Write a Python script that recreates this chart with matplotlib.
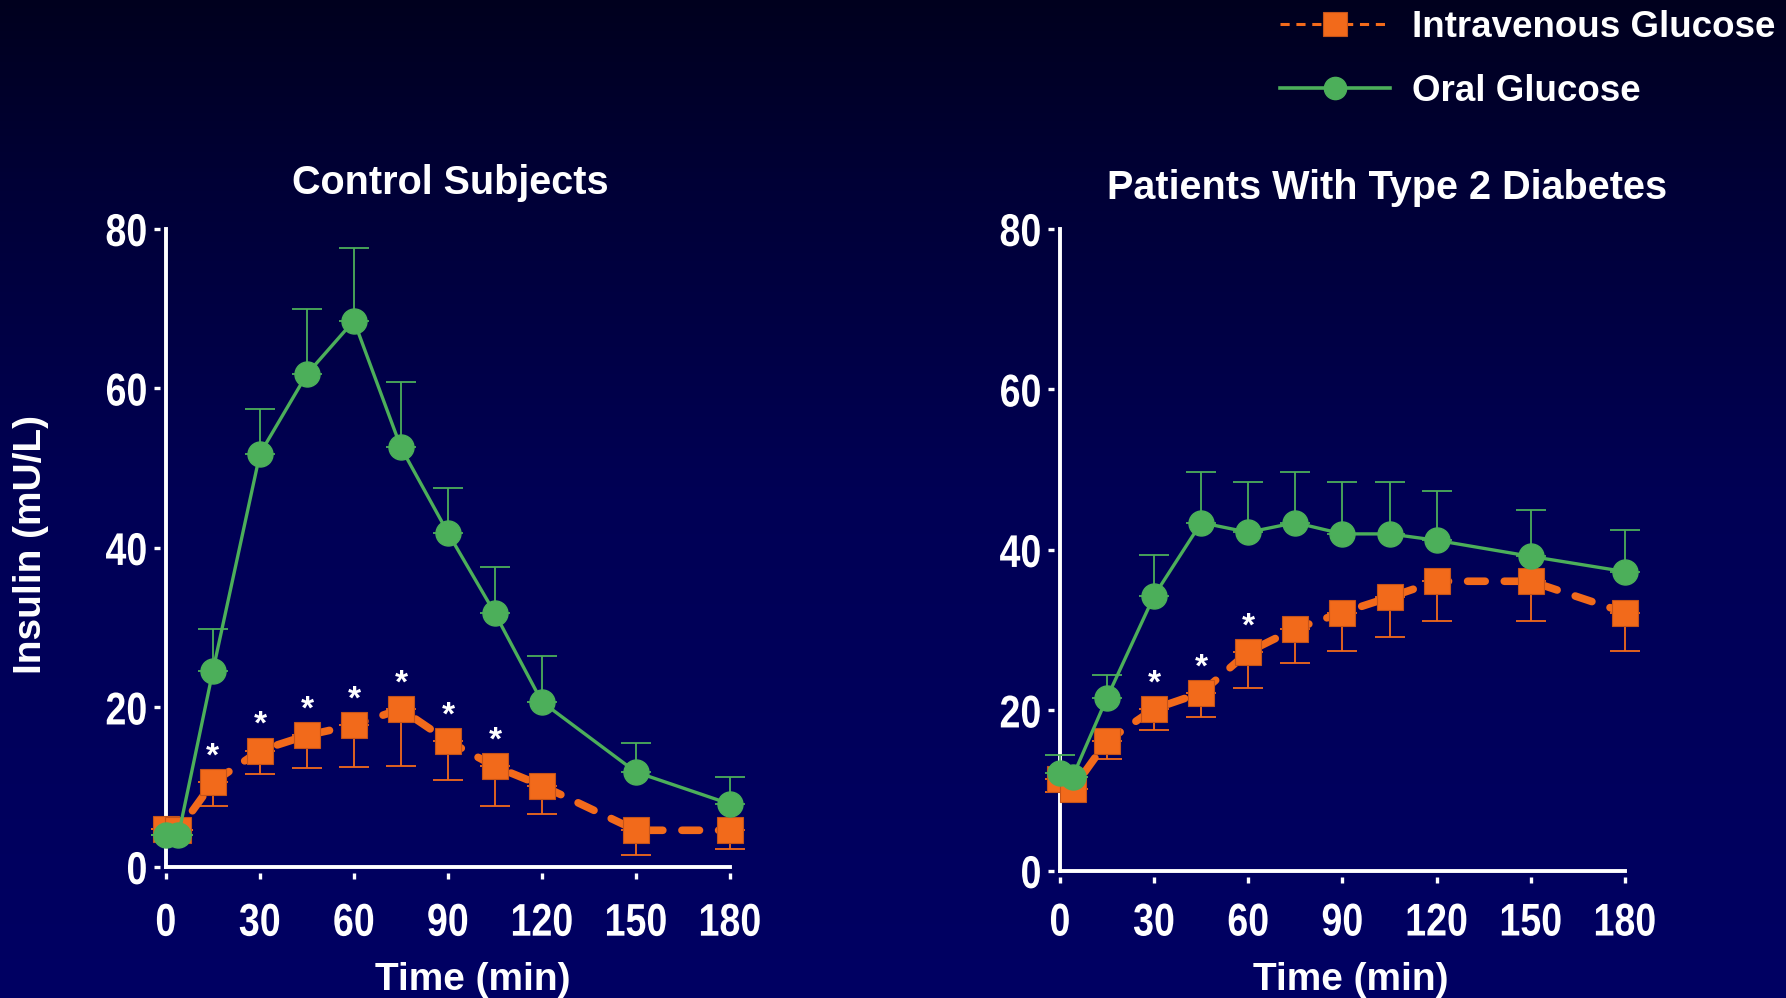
import numpy as np
import matplotlib
matplotlib.use("Agg")
import matplotlib.pyplot as plt
from matplotlib.colors import LinearSegmentedColormap
from matplotlib.lines import Line2D
from matplotlib.patheffects import AbstractPathEffect
from matplotlib.transforms import Affine2D

# Insulin response (mU/L) after oral vs intravenous glucose
time = [0, 4, 15, 30, 45, 60, 75, 90, 105, 120, 150, 180]

ctrl_oral = [4.0, 4.0, 24.6, 51.8, 61.8, 68.5, 52.6, 41.9, 31.8, 20.7, 11.9, 7.9]
ctrl_oral_se = [0, 0, 5.3, 5.6, 8.2, 9.1, 8.2, 5.6, 5.8, 5.8, 3.7, 3.4]
ctrl_iv = [4.8, 4.6, 10.6, 14.6, 16.5, 17.8, 19.8, 15.8, 12.6, 10.2, 4.6, 4.6]
ctrl_iv_se = [0, 0, 2.9, 2.9, 4.1, 5.3, 7.1, 4.9, 4.9, 3.5, 3.1, 2.3]
ctrl_sig = [15, 30, 45, 60, 75, 90, 105]

t2d_oral = [12.2, 11.7, 21.6, 34.3, 43.4, 42.2, 43.4, 42.0, 42.0, 41.2, 39.2, 37.3]
t2d_oral_se = [2.2, 0, 2.8, 5.1, 6.3, 6.3, 6.3, 6.5, 6.5, 6.2, 5.8, 5.2]
t2d_iv = [11.4, 10.2, 16.2, 20.2, 22.2, 27.3, 30.2, 32.2, 34.1, 36.1, 36.1, 32.2]
t2d_iv_se = [1.6, 0, 2.2, 2.6, 3.0, 4.5, 4.3, 4.8, 5.0, 5.0, 5.0, 4.8]
t2d_sig = [30, 45, 60]

xticks = [0, 30, 60, 90, 120, 150, 180]
yticks = [0, 20, 40, 60, 80]

ORANGE = "#f26a1b"
GREEN = "#4caf5a"

plt.rcParams["font.family"] = ["Liberation Sans", "DejaVu Sans"]
plt.rcParams["font.weight"] = "bold"


class Condense(AbstractPathEffect):
    """Squeeze text horizontally (narrow-font look) about an anchor."""

    def __init__(self, sx, anchor=0.5):
        super().__init__()
        self._sx = sx
        self._anchor = anchor

    def draw_path(self, renderer, gc, tpath, affine, rgbFace=None):
        bb = tpath.get_extents(affine)
        cx = bb.x0 + self._anchor * bb.width
        squeeze = Affine2D().translate(-cx, 0).scale(self._sx, 1).translate(cx, 0)
        renderer.draw_path(gc, tpath, affine + squeeze, rgbFace)


fig = plt.figure(figsize=(17.86, 9.98), dpi=100)

# dark navy background, lighter toward the bottom
bg = fig.add_axes([0, 0, 1, 1], zorder=-10)
bg.axis("off")
cmap = LinearSegmentedColormap.from_list(
    "navy", [(0, "#00001e"), (0.18, "#000036"), (0.5, "#000055"), (1, "#000063")])
bg.imshow(np.linspace(0, 1, 256).reshape(-1, 1), cmap=cmap, aspect="auto",
          extent=[0, 1, 0, 1], origin="upper")


def panel(ax, oral, oral_se, iv, iv_se, sig, title, title_x, title_y,
          xlab_x, xlab_y, xpad):
    ax.set_facecolor("none")
    ax.set_xlim(0, 180)
    ax.set_ylim(0, 80)

    # IV glucose: dashed orange with squares, SE below
    ax.errorbar(time, iv, yerr=[iv_se, np.zeros(len(iv_se))], fmt="none",
                ecolor=ORANGE, elinewidth=1.3, capsize=11, capthick=1.3,
                zorder=2, clip_on=False)
    ax.plot(time, iv, color=ORANGE, lw=5.5, dashes=(2.3, 2.5),
            dash_capstyle="round", marker="s", ms=18.5, mfc=ORANGE,
            mec="#c4531a", mew=0.8, zorder=3, clip_on=False)

    # oral glucose: solid green with circles, SE above
    ax.errorbar(time, oral, yerr=[np.zeros(len(oral_se)), oral_se], fmt="none",
                ecolor=GREEN, elinewidth=1.3, capsize=11, capthick=1.3,
                zorder=4, clip_on=False)
    ax.plot(time, oral, color=GREEN, lw=2.4, marker="o", ms=18,
            mfc=GREEN, mec=GREEN, zorder=5, clip_on=False)

    for t in sig:
        ax.annotate("*", (t, iv[time.index(t)]), xytext=(0, 18),
                    textcoords="offset points", ha="center", va="center",
                    color="white", fontsize=24, fontweight="bold", zorder=6)

    # axis lines drawn by hand so the tick stubs sit detached from them
    for s in ax.spines.values():
        s.set_visible(False)
    ax.spines["left"].set_position(("outward", 4))
    ax.spines["bottom"].set_position(("outward", 4))
    ax.axvline(0, color="white", lw=2.8, zorder=1, clip_on=False)
    ax.axhline(0, color="white", lw=2.8, zorder=1, clip_on=False)

    ax.set_xticks(xticks)
    ax.set_yticks(yticks)
    ax.tick_params(axis="both", colors="white", width=2.4, length=4)
    ax.tick_params(axis="x", pad=xpad)
    ax.tick_params(axis="y", pad=5)
    for lab in ax.get_xticklabels():
        lab.set_fontsize(33)
        lab.set_path_effects([Condense(0.82, 0.5)])
    for lab in ax.get_yticklabels():
        lab.set_fontsize(33)
        lab.set_path_effects([Condense(0.82, 1.0)])

    ax.text(title_x, title_y, title, transform=ax.transAxes, ha="center",
            va="center", color="white", fontsize=28.5, fontweight="bold")
    ax.set_xlabel("Time (min)", color="white", fontsize=28, fontweight="bold")
    ax.xaxis.set_label_coords(xlab_x, xlab_y)


ax1 = fig.add_axes([0.0929, 0.1313, 0.3158, 0.6393])
panel(ax1, ctrl_oral, ctrl_oral_se, ctrl_iv, ctrl_iv_se, ctrl_sig,
      "Control Subjects", 0.5035, 1.0715, 0.544, -0.149, 17)

ax2 = fig.add_axes([0.5935, 0.1273, 0.3163, 0.6433])
panel(ax2, t2d_oral, t2d_oral_se, t2d_iv, t2d_iv_se, t2d_sig,
      "Patients With Type 2 Diabetes", 0.579, 1.063, 0.515, -0.142, 14)

fig.text(31 / 1786, 1 - 544 / 998, "Insulin (mU/L)", rotation=90,
         ha="center", va="center", color="white", fontsize=28,
         fontweight="bold")

handles = [
    Line2D([], [], color=ORANGE, lw=2.2, ls=(0, (3, 2.2)), marker="s", ms=17,
           mfc=ORANGE, mec="#c4531a", mew=0.8),
    Line2D([], [], color=GREEN, lw=2.6, marker="o", ms=16, mfc=GREEN),
]
leg = fig.legend(handles, ["Intravenous Glucose", "Oral Glucose"],
                 loc="upper left", bbox_to_anchor=(1278 / 1786, 0.992),
                 frameon=False, fontsize=26.5, handlelength=3.0,
                 handletextpad=0.6, labelspacing=0.8, borderaxespad=0.0,
                 borderpad=0.05)
for txt in leg.get_texts():
    txt.set_color("white")
    txt.set_fontweight("bold")

fig.savefig("out.png", dpi=100)
